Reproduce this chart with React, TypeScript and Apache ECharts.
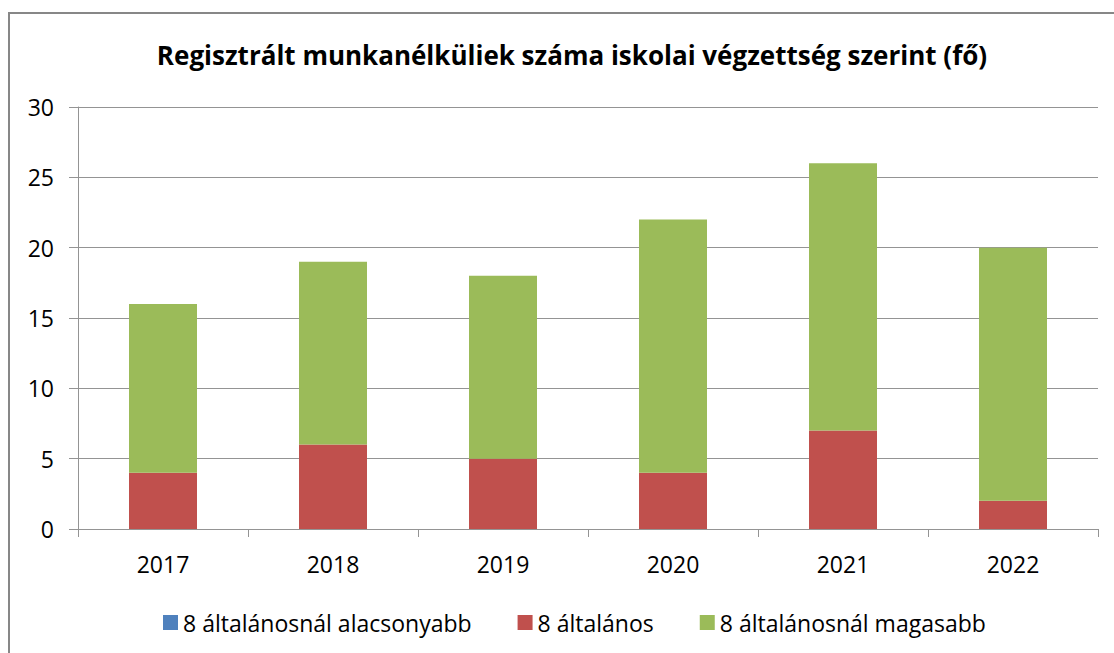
import React, { useEffect, useRef } from "react";
import * as echarts from "echarts";

const categories = ["2017", "2018", "2019", "2020", "2021", "2022"];
const seriesNames = ["8 általánosnál alacsonyabb", "8 általános", "8 általánosnál magasabb"];
const lowerValues = [0, 0, 0, 0, 0, 0];
const eightValues = [4, 6, 5, 4, 7, 2];
const higherValues = [12, 13, 13, 18, 19, 18];
const yTicks = { min: 0, max: 30, interval: 5 };
const colors = ["#4F81BD", "#C0504D", "#9BBB59"];

export default function App() {
  const ref = useRef<HTMLDivElement>(null);
  useEffect(() => {
    if (!ref.current) return;
    const chart = echarts.init(ref.current, null, { renderer: "svg" });
    const font = "Open Sans";
    const gridGray = "#949494";
    const dataSets = [lowerValues, eightValues, higherValues];
    chart.setOption({
      animation: false,
      backgroundColor: "#ffffff",
      title: {
        text: "Regisztrált munkanélküliek száma iskolai végzettség szerint (fő)",
        left: 567,
        textAlign: "center",
        top: 37,
        textStyle: { fontFamily: font, fontSize: 26, fontWeight: "bold", color: "#000000" },
      },
      legend: {
        left: 158,
        top: 606,
        itemWidth: 15,
        itemHeight: 15,
        itemGap: 46,
        icon: "rect",
        textStyle: { fontFamily: font, fontSize: 23, color: "#000000" },
        data: seriesNames,
      },
      graphic: [
        {
          type: "rect",
          shape: { x: 9, y: 13, width: 1200, height: 700 },
          style: { fill: "none", stroke: "#878787", lineWidth: 2 },
          silent: true,
        },
      ],
      grid: { left: 78, right: 16, top: 107, bottom: 124 },
      xAxis: {
        type: "category",
        data: categories,
        axisLine: { show: true, lineStyle: { color: gridGray, width: 1 } },
        axisTick: { show: true, length: 8, alignWithLabel: false, lineStyle: { color: gridGray } },
        axisLabel: { fontFamily: font, fontSize: 23, color: "#000000", margin: 23 },
      },
      yAxis: {
        type: "value",
        min: yTicks.min,
        max: yTicks.max,
        interval: yTicks.interval,
        axisLine: { show: true, lineStyle: { color: gridGray, width: 1 } },
        axisTick: { show: true, length: 9, lineStyle: { color: gridGray } },
        axisLabel: { fontFamily: font, fontSize: 23, color: "#000000", margin: 24 },
        splitLine: { show: true, lineStyle: { color: gridGray, width: 1 } },
      },
      series: seriesNames.map((name, i) => ({
        name,
        type: "bar",
        stack: "total",
        barWidth: 68,
        data: dataSets[i],
        itemStyle: { color: colors[i] },
      })),
    });
    return () => chart.dispose();
  }, []);
  return (
    <div
      ref={ref}
      style={{ position: "fixed", left: 0, top: 0, width: 1114, height: 653 }}
    />
  );
}
